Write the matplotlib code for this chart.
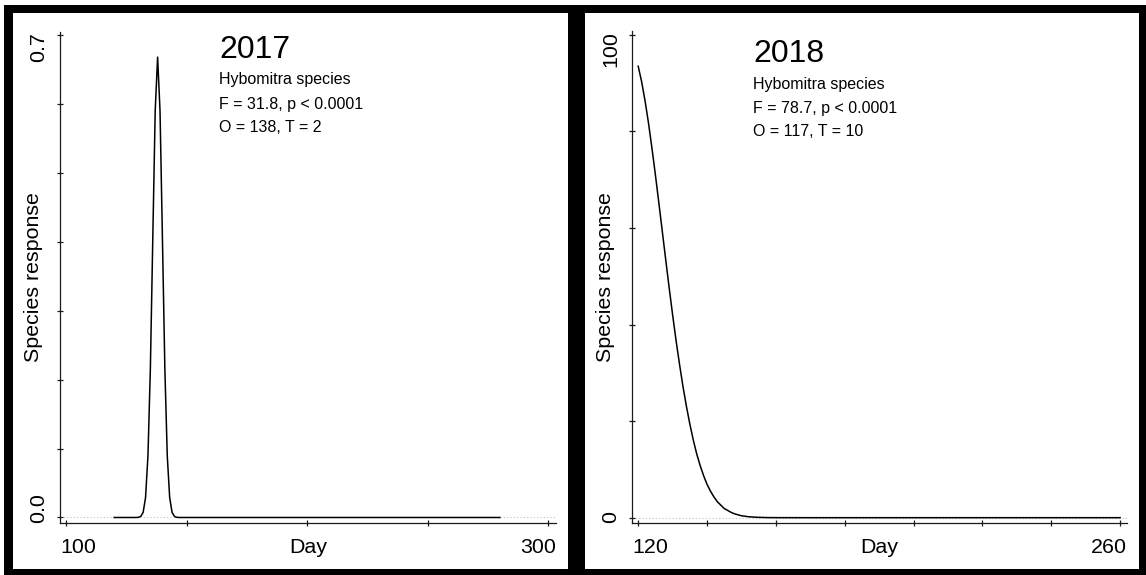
import matplotlib
matplotlib.use("Agg")
import matplotlib.pyplot as plt
from matplotlib.patches import Rectangle

plt.rcParams['font.family'] = ['Liberation Sans', 'DejaVu Sans']

# ---------------- data ----------------
years = ["2017", "2018"]
species = "Hybomitra species"
stats = ["F = 31.8, p < 0.0001", "F = 78.7, p < 0.0001"]
params = ["O = 138, T = 2", "O = 117, T = 10"]

days_2017 = [120, 129, 130, 131, 132, 133, 134, 135, 136, 137, 138,
             139, 140, 141, 142, 143, 144, 145, 146, 147, 280]
resp_2017 = [0.0, 0.0, 0.0002, 0.0015, 0.0074, 0.029, 0.090, 0.217, 0.405, 0.590, 0.668,
             0.590, 0.405, 0.217, 0.090, 0.029, 0.0074, 0.0015, 0.0002, 0.0, 0.0]

days_2018 = [120, 121, 122, 123, 124, 125, 126, 127, 128, 129, 130,
             131, 132, 133, 134, 135, 136, 137, 138, 139, 140,
             141, 142, 143, 144, 145, 146, 147, 148, 149, 150,
             152, 154, 156, 158, 160, 170, 260]
resp_2018 = [93.5, 90.3, 86.3, 81.7, 76.5, 71.0, 65.2, 59.3, 53.4, 47.6, 42.0,
             36.7, 31.8, 27.2, 23.1, 19.4, 16.1, 13.2, 10.8, 8.7, 6.9,
             5.5, 4.3, 3.3, 2.6, 1.9, 1.5, 1.1, 0.8, 0.6, 0.4,
             0.2, 0.1, 0.05, 0.02, 0.01, 0.0, 0.0]

xticks_2017 = [100, 150, 200, 250, 300]
xlabels_2017 = ["100", "300"]
yticks_2017 = [0.0, 0.1, 0.2, 0.3, 0.4, 0.5, 0.6, 0.7]
ylabels_2017 = ["0.0", "0.7"]

xticks_2018 = [120, 140, 160, 180, 200, 220, 240, 260]
xlabels_2018 = ["120", "260"]
yticks_2018 = [0, 20, 40, 60, 80, 100]
ylabels_2018 = ["0", "100"]

# ---------------- layout ----------------
W, H = 1146, 575
fig = plt.figure(figsize=(W / 100, H / 100), dpi=100)
fig.patch.set_facecolor("white")


def fx(px):
    return px / W


def fy(py):
    return 1 - py / H


def rect(x0, y0, x1, y1, color):
    fig.patches.append(Rectangle((fx(x0), fy(y1)), fx(x1) - fx(x0), fy(y0) - fy(y1),
                                 transform=fig.transFigure, facecolor=color,
                                 edgecolor="none", zorder=-10))


rect(4, 5, W, H, "black")
rect(13, 13, 568, 569, "white")
rect(585, 13, 1139, 569, "white")

panels = [
    dict(box=(60, 32, 556, 523), xlim=(97.5, 303.3), ylim=(-0.008, 0.7044),
         x=days_2017, y=resp_2017, xt=xticks_2017, xl=xlabels_2017,
         yt=yticks_2017, yl=ylabels_2017, tx=219, base=[58.5, 84, 108.5, 132]),
    dict(box=(632, 31, 1127, 523), xlim=(118.2, 262.0), ylim=(-1.1, 100.8),
         x=days_2018, y=resp_2018, xt=xticks_2018, xl=xlabels_2018,
         yt=yticks_2018, yl=ylabels_2018, tx=753, base=[62, 89, 112.6, 136]),
]

lc = "#1a1a1a"
for i, p in enumerate(panels):
    x0, y0, x1, y1 = p["box"]
    ax = fig.add_axes([fx(x0), fy(y1), fx(x1) - fx(x0), fy(y0) - fy(y1)])
    ax.set_facecolor("none")
    ax.set_xlim(*p["xlim"])
    ax.set_ylim(*p["ylim"])
    for s in ["top", "right"]:
        ax.spines[s].set_visible(False)
    for s in ["left", "bottom"]:
        ax.spines[s].set_linewidth(0.9)
        ax.spines[s].set_color(lc)
    ax.axhline(0, color="#c0c0c0", lw=0.8, ls=(0, (1, 2)), zorder=1)
    ax.plot(p["x"], p["y"], color="black", lw=1.1, zorder=3)
    ax.set_xticks(p["xt"])
    ax.set_yticks(p["yt"])
    ax.set_xticklabels([])
    ax.set_yticklabels([])
    ax.tick_params(direction="inout", length=5, width=0.9, color=lc)

    # tick labels aligned to the plot box edges (as in the reference)
    fs = 15.4
    ax.text(0, -0.03, p["xl"][0], transform=ax.transAxes, ha="left", va="top",
            fontsize=fs)
    ax.text(1, -0.03, p["xl"][1], transform=ax.transAxes, ha="right", va="top",
            fontsize=fs)
    fig.text(fx(x0 - 21), fy(y1), p["yl"][0], rotation=90, ha="center",
             va="bottom", fontsize=fs)
    fig.text(fx(x0 - 21), fy(y0), p["yl"][1], rotation=90, ha="center",
             va="top", fontsize=fs)

    fig.text(fx((x0 + x1) / 2), fy(553), "Day", ha="center", va="baseline",
             fontsize=fs)
    fig.text(fx(x0 - 26), fy((y0 + y1) / 2), "Species response", rotation=90,
             ha="center", va="center", fontsize=fs)

    b = p["base"]
    fig.text(fx(p["tx"]), fy(b[0]), years[i], ha="left", va="baseline",
             fontsize=23)
    fig.text(fx(p["tx"]), fy(b[1]), species, ha="left", va="baseline",
             fontsize=11.5)
    fig.text(fx(p["tx"]), fy(b[2]), stats[i], ha="left", va="baseline",
             fontsize=11.5)
    fig.text(fx(p["tx"]), fy(b[3]), params[i], ha="left", va="baseline",
             fontsize=11.5)

fig.savefig("out.png", dpi=100, facecolor=fig.get_facecolor())
